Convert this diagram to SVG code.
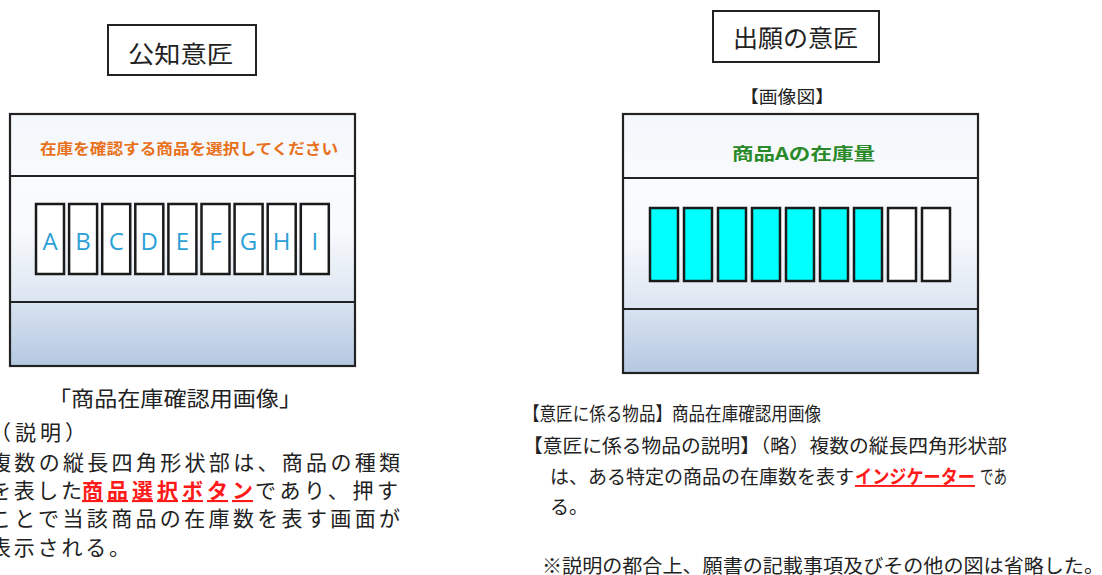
<svg xmlns="http://www.w3.org/2000/svg" width="1102" height="575" viewBox="0 0 1102 575">
<defs>
<linearGradient id="gHead" x1="0" y1="0" x2="0" y2="1"><stop offset="0" stop-color="#f4f7fb"/><stop offset="1" stop-color="#f8fafd"/></linearGradient>
<linearGradient id="gMid" x1="0" y1="0" x2="0" y2="1"><stop offset="0" stop-color="#fafbfd"/><stop offset="0.45" stop-color="#f7f9fc"/><stop offset="1" stop-color="#dbe5f1"/></linearGradient>
<linearGradient id="gFoot" x1="0" y1="0" x2="0" y2="1"><stop offset="0" stop-color="#d9e3f0"/><stop offset="1" stop-color="#b4c8e1"/></linearGradient>
</defs>
<style>
.jp{font-family:"Noto Sans CJK JP","Noto Sans CJK SC",sans-serif;fill:#222}
.box{fill:#fff;stroke:#222;stroke-width:2}
.line{stroke:#222;stroke-width:2}
.frame{fill:none;stroke:#222;stroke-width:2.2}
.btn{fill:#fff;stroke:#1a1a1a;stroke-width:2.5}
.bar{fill:#00ffff;stroke:#1a1a1a;stroke-width:2.5}
.bar0{fill:#fff;stroke:#1a1a1a;stroke-width:2.5}
.let{font-family:"Open Sans","Noto Sans",sans-serif;font-size:24px;fill:#2ba0d6;text-anchor:middle}
.red{fill:#ff1a1a;font-weight:bold;text-decoration:underline}
.t21{font-size:21px}
.t19{font-size:19px}
</style>
<rect width="1102" height="575" fill="#fff"/>

<g id="title-left">
<rect class="box" x="108" y="25" width="148" height="50"/>
<text class="jp" x="128" y="63" font-size="24" textLength="105" lengthAdjust="spacingAndGlyphs">公知意匠</text>
</g>

<g id="title-right">
<rect class="box" x="713" y="11" width="166" height="51"/>
<text class="jp" x="733" y="47" font-size="24" textLength="125" lengthAdjust="spacingAndGlyphs">出願の意匠</text>
<text class="jp" x="740" y="103" font-size="17" textLength="94" lengthAdjust="spacingAndGlyphs">【画像図】</text>
</g>

<g id="panel-left">
<rect x="10" y="114" width="345" height="62" fill="url(#gHead)"/>
<rect x="10" y="176" width="345" height="126" fill="url(#gMid)"/>
<rect x="10" y="302" width="345" height="64" fill="url(#gFoot)"/>
<line class="line" x1="10" y1="176" x2="355" y2="176"/>
<line class="line" x1="10" y1="302" x2="355" y2="302"/>
<rect class="frame" x="10" y="114" width="345" height="252"/>
<text class="jp" x="40" y="154" font-size="15" font-weight="bold" style="fill:#e8701a" textLength="298" lengthAdjust="spacingAndGlyphs">在庫を確認する商品を選択してください</text>
<rect class="btn" x="36" y="204" width="28" height="70"/>
<rect class="btn" x="69.1" y="204" width="28" height="70"/>
<rect class="btn" x="102.2" y="204" width="28" height="70"/>
<rect class="btn" x="135.3" y="204" width="28" height="70"/>
<rect class="btn" x="168.4" y="204" width="28" height="70"/>
<rect class="btn" x="201.5" y="204" width="28" height="70"/>
<rect class="btn" x="234.6" y="204" width="28" height="70"/>
<rect class="btn" x="267.7" y="204" width="28" height="70"/>
<rect class="btn" x="300.8" y="204" width="28" height="70"/>
<text class="let" x="50" y="250">A</text>
<text class="let" x="83.1" y="250">B</text>
<text class="let" x="116.2" y="250">C</text>
<text class="let" x="149.3" y="250">D</text>
<text class="let" x="182.4" y="250">E</text>
<text class="let" x="215.5" y="250">F</text>
<text class="let" x="248.6" y="250">G</text>
<text class="let" x="281.7" y="250">H</text>
<text class="let" x="314.8" y="250">I</text>
</g>

<g id="panel-right">
<rect x="623" y="114" width="355" height="64" fill="url(#gHead)"/>
<rect x="623" y="178" width="355" height="131" fill="url(#gMid)"/>
<rect x="623" y="309" width="355" height="64" fill="url(#gFoot)"/>
<line class="line" x1="623" y1="178" x2="978" y2="178"/>
<line class="line" x1="623" y1="309" x2="978" y2="309"/>
<rect class="frame" x="623" y="114" width="355" height="259"/>
<text class="jp" x="732" y="160" font-size="17" font-weight="bold" style="fill:#2a8a2a" textLength="143" lengthAdjust="spacingAndGlyphs">商品Aの在庫量</text>
<rect class="bar" x="650" y="208" width="28" height="73"/>
<rect class="bar" x="684" y="208" width="28" height="73"/>
<rect class="bar" x="718" y="208" width="28" height="73"/>
<rect class="bar" x="752" y="208" width="28" height="73"/>
<rect class="bar" x="786" y="208" width="28" height="73"/>
<rect class="bar" x="820" y="208" width="28" height="73"/>
<rect class="bar" x="854" y="208" width="28" height="73"/>
<rect class="bar0" x="888" y="208" width="28" height="73"/>
<rect class="bar0" x="922" y="208" width="28" height="73"/>
</g>

<g id="text-left">
<text class="jp t21" x="48" y="406" textLength="254" lengthAdjust="spacingAndGlyphs">「商品在庫確認用画像」</text>
<text class="jp t21" x="-10" y="440" textLength="96" lengthAdjust="spacing">（説明）</text>
<text class="jp t21" x="-10" y="470" textLength="410" lengthAdjust="spacing">複数の縦長四角形状部は、商品の種類</text>
<text class="jp t21" x="-10" y="498" textLength="92" lengthAdjust="spacing">を表した</text>
<text class="jp t21 red" x="82" y="498" textLength="171" lengthAdjust="spacing">商品選択ボタン</text>
<text class="jp t21" x="255" y="498" textLength="143" lengthAdjust="spacing">であり、押す</text>
<text class="jp t21" x="-10" y="526" textLength="410" lengthAdjust="spacing">ことで当該商品の在庫数を表す画面が</text>
<text class="jp t21" x="-10" y="555" textLength="140" lengthAdjust="spacing">表示される。</text>
</g>

<g id="text-right">
<text class="jp t19" x="523" y="421" textLength="298" lengthAdjust="spacingAndGlyphs">【意匠に係る物品】商品在庫確認用画像</text>
<text class="jp t19" x="523" y="453" textLength="484" lengthAdjust="spacingAndGlyphs">【意匠に係る物品の説明】（略）複数の縦長四角形状部</text>
<text class="jp t19" x="550" y="484" textLength="304" lengthAdjust="spacingAndGlyphs">は、ある特定の商品の在庫数を表す</text>
<text class="jp t19 red" x="855" y="484" textLength="120" lengthAdjust="spacingAndGlyphs">インジケーター</text>
<text class="jp t19" x="980" y="484" textLength="27" lengthAdjust="spacingAndGlyphs">であ</text>
<text class="jp t19" x="550" y="514">る。</text>
<text class="jp t19" x="542" y="573" textLength="562" lengthAdjust="spacingAndGlyphs">※説明の都合上、願書の記載事項及びその他の図は省略した。</text>
</g>
</svg>
